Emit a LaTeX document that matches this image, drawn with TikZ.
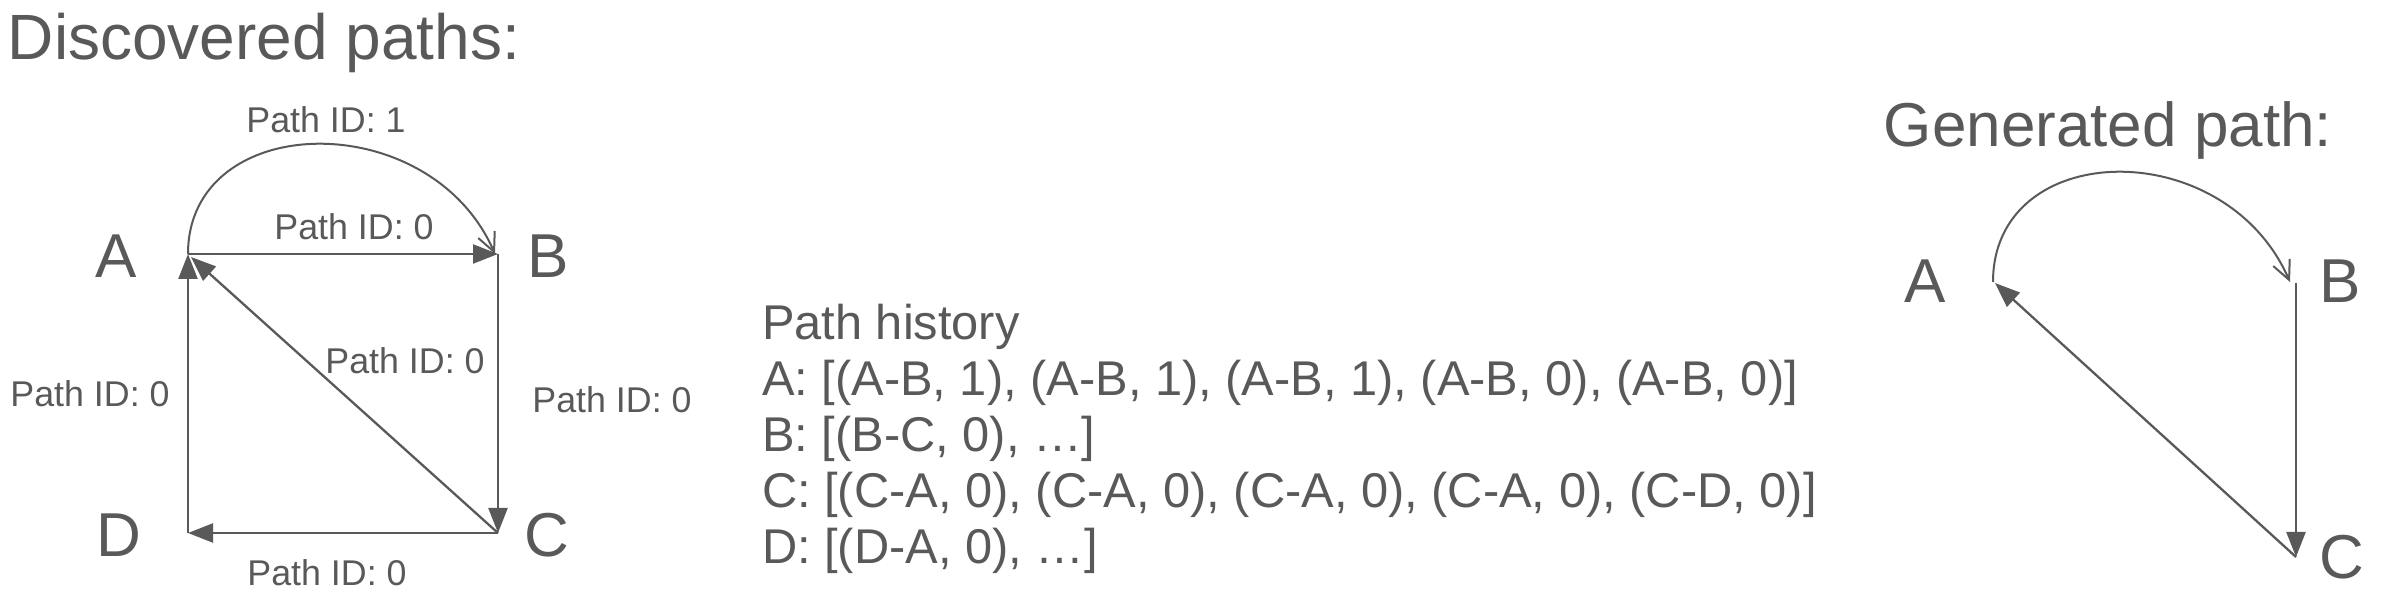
\documentclass[tikz,border=0pt]{standalone}
\usepackage{fontspec}
\setmainfont{Liberation Sans}
\usetikzlibrary{arrows.meta}
\definecolor{ink}{HTML}{595959}
\begin{document}
\begin{tikzpicture}[x=0.5pt,y=-0.5pt,
  every node/.style={inner sep=0pt,outer sep=0pt,text=ink},
  tri/.style={draw=ink,line width=1.15pt,-{Triangle[length=12.5pt,width=9.5pt]}},
  barb/.style={draw=ink,line width=1pt,-{Straight Barb[length=9.5pt,width=9pt]}},
  ttl/.style={font=\fontsize{32pt}{36pt}\selectfont},
  vtx/.style={font=\fontsize{31pt}{34pt}\selectfont,anchor=base},
  elab/.style={font=\fontsize{17.9pt}{20pt}\selectfont,anchor=base},
  hist/.style={font=\fontsize{24.4pt}{28pt}\selectfont,anchor=base west}]
\useasboundingbox (0,0) rectangle (2384,608);

% ---------- Discovered paths ----------
\node[ttl,anchor=base west] (t1) at (8,60) {Discovered paths:};

\coordinate (pA) at (188,254);
\coordinate (pB) at (498,254);
\coordinate (pC) at (498,533);
\coordinate (pD) at (188,533);
\coordinate (pAd) at (191,257);
\coordinate (pBt) at (495,254);

\node[vtx] (lA) at (116,278) {A};
\node[vtx] (lB) at (548,278) {B};
\node[vtx] (lC) at (547,557) {C};
\node[vtx] (lD) at (119,557) {D};

\draw[barb] (pA) .. controls (188,110) and (430,105) .. (pBt);
\draw[tri] (pA) -- (pB);
\draw[tri] (pB) -- (pC);
\draw[tri] (pC) -- (pD);
\draw[tri] (pD) -- (pA);
\draw[tri] (pC) -- (pAd);

\node[elab] (e1) at (326,133) {Path ID: 1};
\node[elab] (e2) at (354,240) {Path ID: 0};
\node[elab] (e3) at (405,374) {Path ID: 0};
\node[elab] (e4) at (90,407) {Path ID: 0};
\node[elab] (e5) at (612,413) {Path ID: 0};
\node[elab] (e6) at (327,586) {Path ID: 0};

% ---------- Path history ----------
\node[hist] (h0) at (762,340) {Path history};
\node[hist] (h1) at (762,396) {A: [(A-B, 1), (A-B, 1), (A-B, 1), (A-B, 0), (A-B, 0)]};
\node[hist] (h2) at (762,452) {B: [(B-C, 0), \ldots]};
\node[hist] (h3) at (762,508) {C: [(C-A, 0), (C-A, 0), (C-A, 0), (C-A, 0), (C-D, 0)]};
\node[hist] (h4) at (762,564) {D: [(D-A, 0), \ldots]};

% ---------- Generated path ----------
\node[ttl,anchor=base,font=\fontsize{31pt}{34pt}\selectfont] (t2) at (2108,147) {Generated path:};

\coordinate (gA) at (1993,282);
\coordinate (gAd) at (1995,283);
\coordinate (gBt) at (2290,282);
\coordinate (gB) at (2296,283);
\coordinate (gC) at (2296,557);

\node[vtx] (mA) at (1925,303) {A};
\node[vtx] (mB) at (2340,303) {B};
\node[vtx] (mC) at (2342,579) {C};

\draw[barb] (gA) .. controls (1993,138) and (2225,133) .. (gBt);
\draw[tri] (gB) -- (gC);
\draw[tri] (gC) -- (gAd);
\end{tikzpicture}
\end{document}
